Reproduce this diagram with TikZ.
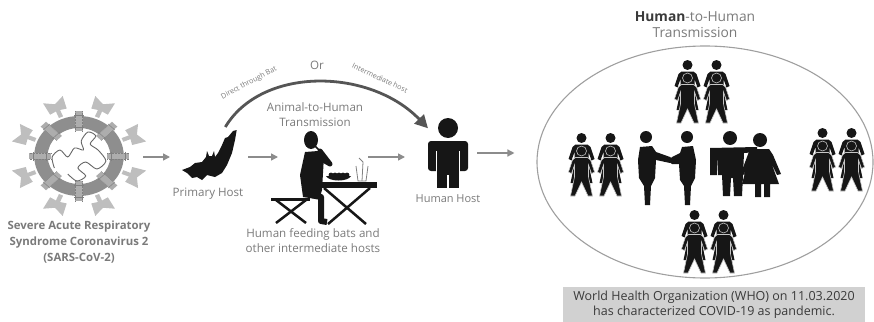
\documentclass[tikz,border=0pt]{standalone}
\usepackage{fontspec}
\setmainfont{Open Sans}
\usetikzlibrary{positioning, arrows.meta, shapes.geometric}

\definecolor{ink}{HTML}{161616}
\definecolor{labelgray}{HTML}{7A7A7A}
\definecolor{flowgray}{HTML}{8C8C8C}
\definecolor{arcgray}{HTML}{555555}
\definecolor{ringgray}{HTML}{8E8E8E}
\definecolor{spikegray}{HTML}{BEBEBE}
\definecolor{bargray}{HTML}{ADADAD}
\definecolor{boxgray}{HTML}{D1D1D1}
\definecolor{textdark}{HTML}{3A3A3A}

\tikzset{
  flow/.style={draw=flowgray, line width=1.4pt, -{Triangle[length=7pt,width=7pt]}},
  bigarc/.style={draw=arcgray, line width=2.8pt, -{Triangle[length=13pt,width=13pt]}},
  iconbox/.style={inner sep=0pt, outer sep=0pt},
  caption/.style={text=labelgray, font=\fontsize{11.6}{15}\selectfont, align=center, inner sep=0pt},
  arclabel/.style={text=labelgray, font=\fontsize{7.2}{8}\selectfont, inner sep=0pt},
  % one standing figure, head centre at the origin
  pics/person/.style={code={
    \path[pic actions] (0,0) circle (5);
    \path[pic actions] (-6,6.5) -- (6,6.5) -- (9,9) -- (13,21) -- (10,22.5) -- (7,14)
      -- (7,26) -- (11,45) -- (6.5,45) -- (0,31) -- (-6.5,45) -- (-11,45) -- (-7,26)
      -- (-7,14) -- (-10,22.5) -- (-13,21) -- (-9,9) -- cycle;
  }},
  % two figures, one behind the other
  pics/walker/.style={code={
    \pic[fill=ink] {person};
    \pic[fill=ink, draw=gray!45, line width=0.6pt] at (0,13) {person};
  }},
  pics/pair/.style={code={
    \pic at (-14.5,0) {walker};
    \pic at (14.5,0) {walker};
  }},
}

\begin{document}
\begin{tikzpicture}[x=1pt, y=-1pt]
  \useasboundingbox (0,0) rectangle (874,321);

  % ---- nodes that the arrows run between
  \node[iconbox, circle, minimum size=124pt] (virus) at (79,157) {};
  \node[iconbox, minimum width=60pt, minimum height=60pt] (bat) at (208,157) {};
  \node[iconbox, minimum width=80pt, minimum height=60pt] (eater) at (322,157) {};
  \node[iconbox, minimum width=40pt, minimum height=70pt] (host) at (448,153) {};
  \node[ellipse, draw=gray!75, line width=1.1pt, inner sep=0pt,
        minimum width=336pt, minimum height=232pt] (crowd) at (705,162) {};

  % ---- virus
  \begin{scope}[shift={(79,156)}, xscale=1.12]
    \foreach \a in {22.5,67.5,...,337.5}
      \fill[spikegray, rotate=\a] (42,-2) -- (49,-2) -- (48,-8) -- (61,-9.5) -- (56,0)
        -- (61,9.5) -- (48,8) -- (49,2) -- (42,2) -- cycle;
    \fill[ringgray, even odd rule] (0,0) circle (40) (0,0) circle (28);
    \foreach \a in {0,45,...,315} {
      \fill[bargray, rotate=\a] (25,-3.2) rectangle (45,3.2);
      \draw[gray, densely dotted, line width=0.5pt, rotate=\a] (25,-3.2) -- (45,-3.2) (25,3.2) -- (45,3.2);
      \draw[gray, line width=0.5pt, rotate=\a] (29,-4.5) -- (29,4.5) (41,-4.5) -- (41,4.5);
    }
    \draw[gray!80!black, line width=0.9pt] plot[smooth] coordinates {(-22,12) (-24,1) (-17,-6) (-10,1)
      (-4,-8) (4,-6) (2,-15) (8,-24) (15,-20) (10,-12) (17,-6) (24,5) (16,13) (6,6) (-1,12)
      (6,20) (-2,25) (-10,18)};
  \end{scope}
  \node[caption, font=\fontsize{11.4}{16}\selectfont\bfseries, below=2pt of virus] {Severe Acute Respiratory\\Syndrome Coronavirus 2\\(SARS-CoV-2)};

  % ---- bat
  \fill[ink] (236.7,130) -- (235,140) -- (232,153) -- (227,165) -- (222,173) -- (215,177)
    -- (207,175) -- (202,180) -- (197,177) -- (192,178) -- (187,173) -- (182,170) -- (190,167)
    -- (195,163) -- (202,162) -- (206,157) -- (207,151) -- (209,156) -- (212,156) -- (214,151)
    -- (215,157) -- (218,153) -- (222,145) -- (225,138) -- (228,137) -- (233,131) -- cycle;
  \node[caption, below=1pt of bat] {Primary Host};

  % ---- person eating at a table
  \fill[ink] (311,140) ellipse (7 and 9);
  \fill[ink] (305,152) -- (318,151) -- (324,156) -- (322,190) -- (320,197) -- (303,197) -- (300,175) -- cycle;
  \draw[ink, line width=5pt, line cap=round, line join=round] (318,157) -- (330,164) -- (320,151);
  \draw[ink, line width=1.5pt] (320,151) -- (315,146);
  \draw[ink, line width=6pt, line join=round] (304,194) -- (321,197) -- (321,221) -- (327,222);
  \draw[ink, line width=3pt] (271,199) -- (310,199);
  \draw[ink, line width=2.5pt] (276,200) -- (306,223) (306,200) -- (276,223);
  \fill[ink] (317,182) rectangle (377,188);
  \draw[ink, line width=2.5pt] (324,188) -- (366,224) (370,188) -- (328,224);
  \fill[ink] (326,176) -- (351,176) .. controls (348,182) and (329,182) .. (326,176);
  \foreach \fx in {331,335,339,343,347}
    \fill[ink] (\fx,175) circle (2.4);
  \draw[gray, line width=0.8pt] (356,166) -- (358,181) -- (366,181) -- (368,166);
  \draw[gray, line width=0.8pt] (362,181) -- (363,162) -- (359,158);
  \node[caption] at (315,115) {Animal-to-Human\\Transmission};
  \node[caption] at (313,241) {Human feeding bats and\\other intermediate hosts};

  % ---- human host
  \fill[ink] (448,128) circle (10);
  \fill[ink, rounded corners=3pt] (428,141) rectangle (468,171);
  \fill[ink] (437,168) rectangle (459,188);
  \draw[white, line width=1.2pt] (436.5,151) -- (436.5,172) (459.5,151) -- (459.5,172) (448,175) -- (448,189);
  \node[caption, font=\fontsize{11}{14}\selectfont, below=6pt of host] {Human Host};

  % ---- arrows
  \draw[flow, shorten <=2pt, shorten >=8pt] (virus) -- (bat);
  \draw[flow, shorten <=10pt, shorten >=4pt] (bat) -- (eater);
  \draw[flow, shorten <=6pt, shorten >=23pt] (eater.east) -- (eater.east -| host.west);
  \draw[flow, shorten <=9pt, shorten >=22pt] (host.east) -- (host.east -| crowd.west);
  \draw[bigarc] (bat.60) .. controls (262,66) and (370,68) .. (host.129);
  \node[caption] at (317,65) {Or};
  \node[arclabel, rotate=28] at (249,83) {Direct through Bat};
  \node[arclabel, rotate=-25] at (380,78) {Intermediate host};

  % ---- people inside the circle
  \pic at (702,65) {pair};
  \pic at (596,138) {pair};
  \pic at (837,133) {pair};
  \pic at (709,215) {pair};
  % handshake
  \fill[ink] (646,137) circle (6);
  \fill[ink] (687,137) circle (6);
  \fill[ink] (640,147) -- (652,146) -- (656,152) -- (670,157) -- (674,160) -- (670,163) -- (656,160)
    -- (655,178) -- (651,186) -- (650,205) -- (645,205) -- (644,186) -- (639,178) -- (638,160) -- cycle;
  \fill[ink] (682,147) -- (693,146) -- (696,160) -- (695,178) -- (691,186) -- (690,205) -- (685,205)
    -- (684,186) -- (680,180) -- (679,164) -- (672,164) -- (668,161) -- (672,157) -- (680,153) -- cycle;
  % couple
  \fill[ink] (730,138) circle (7);
  \fill[ink] (760,140) circle (7);
  \fill[ink] (710,148) -- (757,147) -- (757,152) -- (744,153) -- (743,175) -- (742,196) -- (734,196)
    -- (733,178) -- (731,178) -- (730,196) -- (723,196) -- (722,175) -- (718,175) -- (718,155)
    -- (717,175) -- (710,175) -- cycle;
  \fill[ink] (750,149) -- (769,149) -- (773,155) -- (781,174) -- (777,175) -- (771,162) -- (779,184)
    -- (770,184) -- (770,197) -- (764,197) -- (764,184) -- (761,184) -- (761,197) -- (755,197)
    -- (755,184) -- (742,184) -- (748,162) -- (744,175) -- (741,173) -- cycle;

  \node[caption, font=\fontsize{13.8}{16}\selectfont] at (695,25) {{\bfseries\color{textdark}Human}-to-Human\\Transmission};

  % ---- note box
  \node[fill=boxgray, minimum width=302pt, minimum height=35pt, inner sep=0pt, align=center,
        text=textdark, font=\fontsize{12.5}{15}\selectfont] (note) at (714,304.5)
    {World Health Organization (WHO) on 11.03.2020\\has characterized COVID-19 as pandemic.};
\end{tikzpicture}
\end{document}
